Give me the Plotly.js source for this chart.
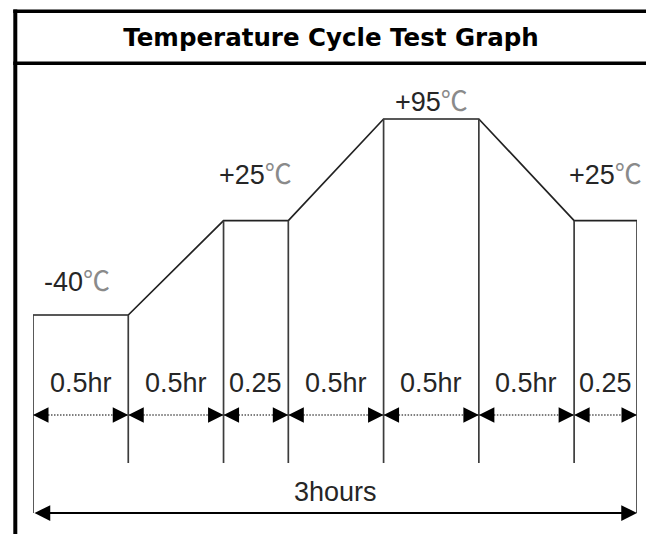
<!DOCTYPE html>
<html><head><meta charset="utf-8">
<script src="https://cdn.plot.ly/plotly-3.0.1.min.js"></script>
<style>html,body{margin:0;padding:0;background:#fff;}#chart{width:646px;height:534px;}</style>
</head><body><div id="chart"></div>
<script>
// ---------------- data ----------------
const chartTitle = 'Temperature Cycle Test Graph';
const stepLabels = ['0.5hr', '0.5hr', '0.25', '0.5hr', '0.5hr', '0.5hr', '0.25'];
const stepHours = [0.5, 0.5, 0.25, 0.5, 0.5, 0.5, 0.25];
// schematic (drawn) width of each step: the 0.25 h steps are drawn wider than to scale
const stepDrawn = [0.5, 0.5, 0.34, 0.5, 0.5, 0.5, 0.33];
const edgeTemps = [-40, -40, 25, 25, 95, 95, 25, 25];
const plateauSteps = [0, 2, 4, 6];
const totalLabel = '3hours';

// ---------------- layout helpers ----------------
const W = 646, H = 534;
const PL = 33, PR = 637, PT = 70, PB = 534;
const pxLow = 315, pxHigh = 119;            // where -40 and +95 sit
const tLow = -40, tHigh = 95;
const pxPerDeg = (pxLow - pxHigh) / (tHigh - tLow);
const yMax = tHigh + (pxHigh - PT) / pxPerDeg;
const yMin = tLow - (PB - pxLow) / pxPerDeg;
const yAt = px => yMax - (px - PT) / pxPerDeg;
const paperX = px => (px - PL) / (PR - PL);
const paperY = px => (PB - px) / (PB - PT);

const edges = [0];
stepDrawn.forEach(w => edges.push(edges[edges.length - 1] + w));
const last = edges.length - 1;

const txtFont = {family: 'Liberation Sans, Arial, sans-serif', size: 27, color: '#262626'};
const degSpan = '<span style="font-family:\'Noto Sans CJK SC\';color:#8a8a8a">℃</span>';

// profile
const profile = {x: edges, y: edgeTemps, mode: 'lines', type: 'scatter',
  line: {color: '#222', width: 1.7}, hoverinfo: 'skip'};

// verticals
const vx = [], vy = [];
edges.forEach((e, i) => {
  const bottom = (i === 0 || i === last) ? yAt(513) : yAt(463);
  vx.push(e, e, null); vy.push(edgeTemps[i], bottom, null);
});
const verticals = {x: vx, y: vy, mode: 'lines', type: 'scatter',
  line: {color: '#3c3c3c', width: 1.7}, hoverinfo: 'skip'};

// dotted dimension lines
const yDim = yAt(415);
const dx = [], dy = [];
for (let i = 0; i < stepLabels.length; i++) { dx.push(edges[i], edges[i + 1], null); dy.push(yDim, yDim, null); }
const dotted = {x: dx, y: dy, mode: 'lines', type: 'scatter',
  line: {color: '#555', width: 1.6, dash: '1.5px,1.5px'}, hoverinfo: 'skip'};

const annotations = [];
// step labels + arrowheads
for (let i = 0; i < stepLabels.length; i++) {
  const mid = (edges[i] + edges[i + 1]) / 2;
  annotations.push({x: mid, y: yAt(383), xref: 'x', yref: 'y', text: stepLabels[i],
    showarrow: false, font: txtFont});
  annotations.push({x: edges[i], y: yDim, xref: 'x', yref: 'y', text: '', showarrow: true,
    ax: 14, ay: 0, arrowhead: 2, arrowsize: 3.1, arrowwidth: 1, arrowcolor: '#000', standoff: 0});
  annotations.push({x: edges[i + 1], y: yDim, xref: 'x', yref: 'y', text: '', showarrow: true,
    ax: -14, ay: 0, arrowhead: 2, arrowsize: 3.1, arrowwidth: 1, arrowcolor: '#000', standoff: 0});
}
// temperature labels
const tempShift = [36, 48, 20, 48];
plateauSteps.forEach((s, k) => {
  const t = edgeTemps[s + 1];
  const mid = (edges[s] + edges[s + 1]) / 2;
  annotations.push({x: mid, y: t, xref: 'x', yref: 'y', yshift: tempShift[k], xshift: k === 0 ? -4 : 0,
    text: (t > 0 ? '+' : '') + t + degSpan, showarrow: false, font: txtFont});
});
// total arrow
const yTot = yAt(513);
annotations.push({x: edges[last], y: yTot, ax: edges[0], ay: yTot, xref: 'x', yref: 'y',
  axref: 'x', ayref: 'y', text: '', showarrow: true, arrowside: 'end+start',
  arrowhead: 2, startarrowhead: 2, arrowsize: 1.75, startarrowsize: 1.75, arrowwidth: 1.8,
  arrowcolor: '#000', standoff: 0, startstandoff: 0});
annotations.push({x: (edges[0] + edges[last]) / 2, y: yAt(492), xref: 'x', yref: 'y',
  text: totalLabel, showarrow: false, font: txtFont});

const shapes = [
  {type: 'line', xref: 'paper', yref: 'paper', x0: paperX(15.3), x1: paperX(15.3), y0: paperY(9.5), y1: paperY(540), line: {color: '#000', width: 4}},
  {type: 'line', xref: 'paper', yref: 'paper', x0: paperX(13.3), x1: paperX(650), y0: paperY(11.3), y1: paperY(11.3), line: {color: '#000', width: 3.6}},
  {type: 'line', xref: 'paper', yref: 'paper', x0: paperX(13.3), x1: paperX(650), y0: paperY(63.3), y1: paperY(63.3), line: {color: '#000', width: 3.6}}
];

const layout = {
  width: W, height: H, paper_bgcolor: '#fff', plot_bgcolor: '#fff', showlegend: false,
  margin: {l: PL, r: W - PR, t: PT, b: H - PB, pad: 0},
  title: {text: chartTitle, x: 331 / W, y: 1 - 37 / H, xanchor: 'center', yanchor: 'middle', xref: 'container', yref: 'container',
    font: {family: 'DejaVu Sans, Verdana, sans-serif', size: 24.5, weight: 700, color: '#000'}},
  xaxis: {range: [edges[0], edges[last]], visible: false, fixedrange: true},
  yaxis: {range: [yMin, yMax], visible: false, fixedrange: true},
  annotations, shapes, hovermode: false
};

Plotly.newPlot('chart', [profile, verticals, dotted], layout, {displayModeBar: false, staticPlot: true});
</script></body></html>
